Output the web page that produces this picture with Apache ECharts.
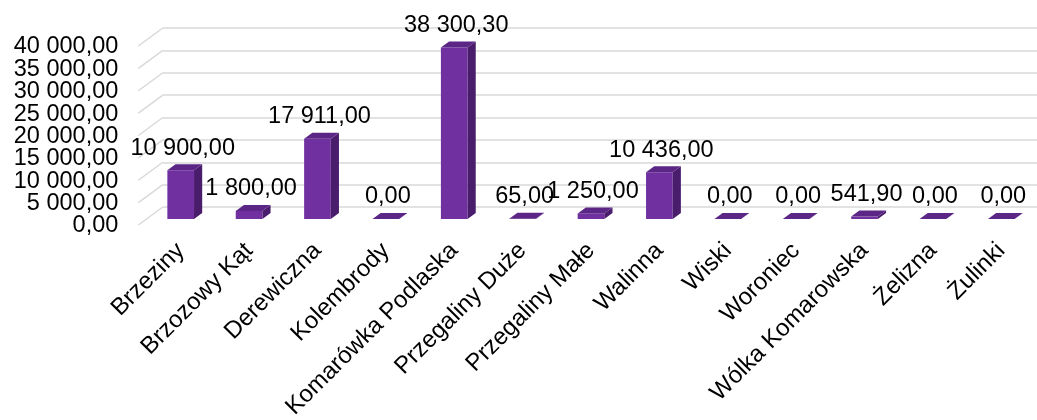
<!DOCTYPE html>
<html><head><meta charset="utf-8">
<script src="https://cdn.jsdelivr.net/npm/echarts@6/dist/echarts.min.js"></script>
<style>html,body{margin:0;padding:0;background:#fff}#c{width:1037px;height:420px}</style>
</head><body><div id="c"></div>
<script>
const categories = ['Brzeziny','Brzozowy Kąt','Derewiczna','Kolembrody','Komarówka Podlaska','Przegaliny Duże','Przegaliny Małe','Walinna','Wiski','Woroniec','Wólka Komarowska','Żelizna','Żulinki'];
const values = [10900, 1800, 17911, 0, 38300.30, 65, 1250, 10436, 0, 0, 541.90, 0, 0];
const yTicks = [0, 5000, 10000, 15000, 20000, 25000, 30000, 35000, 40000];
const yMin = 0, yMax = 40000, yInterval = 5000;

function fmt(v){
  const s = Number(v).toFixed(2).split('.');
  return s[0].replace(/\B(?=(\d{3})+(?!\d))/g, ' ') + ',' + s[1];
}

const FONT = '"Liberation Sans", Arial, sans-serif';
const FS = 23.5, FSC = 24;
const DX = 24.5, DY = -18;          // 3D wall depth (px)
const FRONT = '#7030A0', SIDE = '#4A1D6C', TOP = '#5B2686';
const GRIDC = '#D9D9D9';

const chart = echarts.init(document.getElementById('c'), null, {renderer:'canvas'});
const plotW = 889, plotH = 179;
chart.setOption({
  animation: false,
  backgroundColor: '#fff',
  grid: [
    {left: 146.5, top: 40, width: plotW, height: plotH, outerBoundsMode: 'none', containLabel: false},
    {left: 146.5 - DX/3, top: 40 - DY/3, width: plotW, height: plotH, outerBoundsMode: 'none', containLabel: false},
    {left: 146.5 + 2*DX/3, top: 40 + 2*DY/3, right: 0, height: plotH, outerBoundsMode: 'none', containLabel: false}
  ],
  xAxis: [
    {gridIndex: 0, type: 'category', data: categories,
     axisLine: {show: false}, axisTick: {show: false},
     axisLabel: {interval: 0, rotate: 45, margin: 28, fontSize: FSC, fontFamily: FONT, color: '#000', hideOverlap: false}},
    {gridIndex: 1, type: 'category', data: categories, show: false},
    {gridIndex: 2, type: 'category', data: categories, show: false}
  ],
  yAxis: [
    {gridIndex: 0, type: 'value', min: yMin, max: yMax, interval: yInterval, show: false, splitLine: {show: false}},
    {gridIndex: 1, type: 'value', min: yMin, max: yMax, interval: yInterval, show: false, splitLine: {show: false}},
    {gridIndex: 2, type: 'value', min: yMin, max: yMax, interval: yInterval,
     axisLine: {show: false}, axisTick: {show: false}, axisLabel: {show: false},
     splitLine: {show: true, lineStyle: {color: GRIDC, width: 1.5}}}
  ],
  series: [
    {
      // left wall gridlines
      type: 'custom', xAxisIndex: 0, yAxisIndex: 0, z: 1, silent: true,
      data: yTicks.map(v => [0, v]),
      renderItem: function(params, api){
        const cs = params.coordSys;
        const y = api.coord([0, api.value(1)])[1];
        return {type: 'line', shape: {x1: cs.x - DX/3, y1: y - DY/3, x2: cs.x + 2*DX/3, y2: y + 2*DY/3},
                style: {stroke: GRIDC, lineWidth: 1.5}};
      }
    },
    {
      // value axis labels on the front plane
      type: 'custom', xAxisIndex: 1, yAxisIndex: 1, z: 4, silent: true,
      data: yTicks.map(v => [0, v]),
      renderItem: function(params, api){
        const cs = params.coordSys;
        const y = api.coord([0, api.value(1)])[1];
        return {type: 'text', style: {text: fmt(api.value(1)), x: cs.x - 20, y: y + 1, align: 'right', verticalAlign: 'middle',
                fontSize: FS, fontFamily: FONT, fill: '#000'}};
      }
    },
    {
      type: 'custom', xAxisIndex: 0, yAxisIndex: 0, z: 3,
      data: values.map((v, i) => [i, v]),
      renderItem: function(params, api){
        const i = api.value(0), v = api.value(1);
        const base = api.coord([i, 0]), top = api.coord([i, v]);
        const w = api.size([1, 0])[0] * 0.39;
        const x0 = top[0] - w/2, x1 = top[0] + w/2;
        const dx = DX/3, dy = DY/3;
        const yt = top[1], yb = base[1];
        return {type: 'group', children: [
          {type: 'rect', shape: {x: x0, y: yt, width: w, height: yb - yt}, style: {fill: FRONT}},
          {type: 'polygon', shape: {points: [[x1, yt], [x1+dx, yt+dy], [x1+dx, yb+dy], [x1, yb]]}, style: {fill: SIDE}},
          {type: 'polygon', shape: {points: [[x0, yt], [x1, yt], [x1+dx, yt+dy], [x0+dx, yt+dy]]}, style: {fill: TOP}},
          {type: 'text', z2: 10, style: {text: fmt(v), x: top[0] + 2, y: yt - 22, align: 'center', verticalAlign: 'middle',
            fontSize: FS, fontFamily: FONT, fill: '#000'}}
        ]};
      }
    }
  ]
});
</script></body></html>
